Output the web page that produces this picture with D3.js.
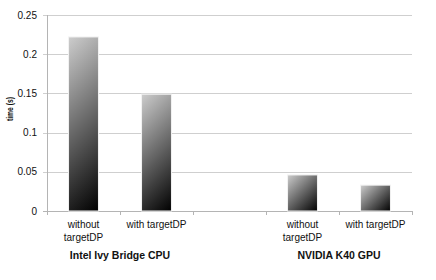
<!DOCTYPE html>
<html>
<head>
<meta charset="utf-8">
<script src="https://cdn.jsdelivr.net/npm/d3@7"></script>
<style>
  body { margin: 0; background: #fff; }
  text { font-family: 'Liberation Sans', Arial, sans-serif; fill: #111; }
</style>
</head>
<body>
<div id="chart"></div>
<script>
// data
const groups = ['Intel Ivy Bridge CPU', 'NVIDIA K40 GPU'];
const categories = [['without', 'targetDP'], ['with targetDP']];
const cpuTimes = [0.222, 0.149];
const gpuTimes = [0.046, 0.033];
const yTicks = [0, 0.05, 0.1, 0.15, 0.2, 0.25];

// slots: cpu bars, one empty slot, gpu bars
const slots = [
  { key: 'c0', group: 0, cat: 0, value: cpuTimes[0] },
  { key: 'c1', group: 0, cat: 1, value: cpuTimes[1] },
  { key: 'gap', group: -1, cat: -1, value: null },
  { key: 'g0', group: 1, cat: 0, value: gpuTimes[0] },
  { key: 'g1', group: 1, cat: 1, value: gpuTimes[1] }
];

const width = 436;
const height = 280;
const margin = { top: 15, right: 24, bottom: 69, left: 47 };

const svg = d3.select('#chart')
  .append('svg')
  .attr('width', width)
  .attr('height', height);

const x = d3.scaleBand()
  .domain(slots.map(d => d.key))
  .range([margin.left, width - margin.right])
  .paddingInner(0.59)
  .paddingOuter(0.295);

const y = d3.scaleLinear()
  .domain([0, 0.25])
  .range([height - margin.bottom, margin.top]);

const step = x.step();
const x0 = margin.left;
const x1 = width - margin.right;

// gridlines
svg.append('g')
  .selectAll('line')
  .data(yTicks.filter(d => d > 0))
  .join('line')
  .attr('x1', x0 - 4)
  .attr('x2', x1)
  .attr('y1', d => Math.round(y(d)) + 0.5)
  .attr('y2', d => Math.round(y(d)) + 0.5)
  .style('stroke', '#cfcfcf')
  .style('stroke-width', 1.2);

// y axis
svg.append('line')
  .attr('x1', x0 + 0.5).attr('x2', x0 + 0.5)
  .attr('y1', y(0.25)).attr('y2', y(0) + 0.5)
  .style('stroke', '#b4b4b4');

svg.append('g')
  .selectAll('text')
  .data(yTicks)
  .join('text')
  .attr('x', x0 - 10)
  .attr('y', d => y(d) + 3.5)
  .attr('text-anchor', 'end')
  .style('font-size', '10px')
  .text(d => d3.format('~g')(d));

svg.append('text')
  .attr('transform', 'translate(13,' + ((y(0) + y(0.25)) / 2 - 4) + ') rotate(-90)')
  .attr('text-anchor', 'middle')
  .attr('textLength', 24)
  .attr('lengthAdjust', 'spacingAndGlyphs')
  .style('font-size', '9px')
  .style('font-weight', 'bold')
  .text('time (s)');

// x axis
svg.append('line')
  .attr('x1', x0 - 4).attr('x2', x1)
  .attr('y1', Math.round(y(0)) + 0.5).attr('y2', Math.round(y(0)) + 0.5)
  .style('stroke', '#b4b4b4');

svg.append('g')
  .selectAll('line')
  .data(d3.range(slots.length + 1))
  .join('line')
  .attr('x1', i => Math.round(x0 + i * step) + 0.5)
  .attr('x2', i => Math.round(x0 + i * step) + 0.5)
  .attr('y1', y(0))
  .attr('y2', y(0) + 4)
  .style('stroke', '#b4b4b4');

// gradients, one per bar, at 45 degrees in user space
const bars = slots.filter(d => d.value !== null);
const defs = svg.append('defs');
bars.forEach(d => {
  const bx = x(d.key);
  const by = y(d.value);
  const bw = x.bandwidth();
  const bh = y(0) - by;
  const g = defs.append('linearGradient')
    .attr('id', 'grad-' + d.key)
    .attr('gradientUnits', 'userSpaceOnUse')
    .attr('x1', bx).attr('y1', by)
    .attr('x2', bx + (bw + bh) / 2).attr('y2', by + (bw + bh) / 2);
  g.append('stop').attr('offset', 0).attr('stop-color', '#cdcdcd');
  g.append('stop').attr('offset', 1).attr('stop-color', '#000000');
});

svg.append('g')
  .selectAll('rect')
  .data(bars)
  .join('rect')
  .attr('x', d => x(d.key))
  .attr('y', d => y(d.value))
  .attr('width', x.bandwidth())
  .attr('height', d => y(0) - y(d.value))
  .style('fill', d => 'url(#grad-' + d.key + ')')
  .style('stroke', '#f2f2f2')
  .style('stroke-width', 1);

// category labels
const catLabels = svg.append('g');
bars.forEach(d => {
  const t = catLabels.append('text')
    .attr('x', x(d.key) + x.bandwidth() / 2)
    .attr('y', y(0) + 17)
    .attr('text-anchor', 'middle')
    .style('font-size', '10px');
  categories[d.cat].forEach((line, i) => {
    t.append('tspan')
      .attr('x', x(d.key) + x.bandwidth() / 2)
      .attr('dy', i === 0 ? 0 : 12.5)
      .text(line);
  });
});

// group labels
svg.append('g')
  .selectAll('text')
  .data(groups)
  .join('text')
  .attr('x', (d, i) => {
    const keys = slots.filter(s => s.group === i).map(s => s.key);
    return (x(keys[0]) + x(keys[keys.length - 1]) + x.bandwidth()) / 2;
  })
  .attr('y', y(0) + 48)
  .attr('text-anchor', 'middle')
  .style('font-size', '10.5px')
  .style('font-weight', 'bold')
  .text(d => d);
</script>
</body>
</html>
